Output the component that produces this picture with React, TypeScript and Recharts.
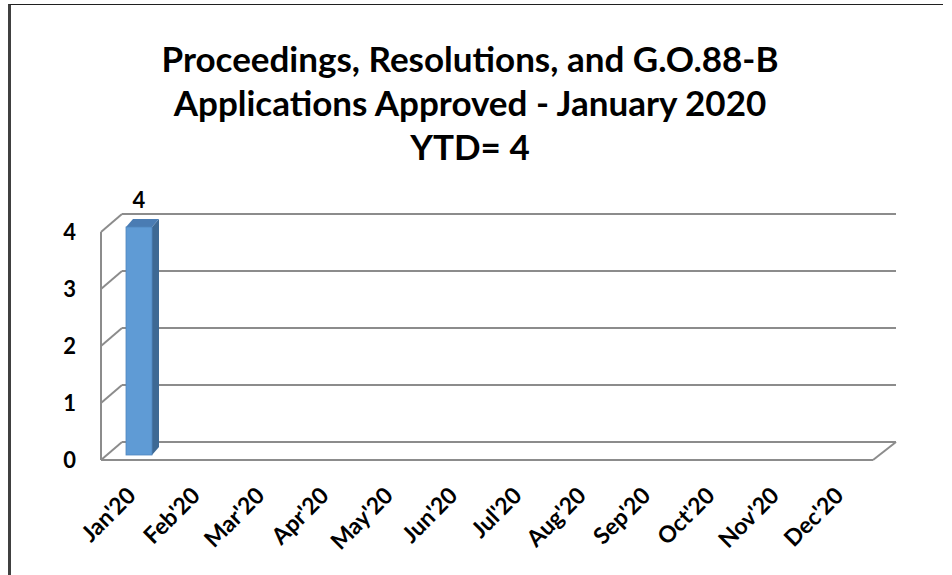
import React from 'react';
import { BarChart, Bar, XAxis, YAxis, CartesianGrid, LabelList } from 'recharts';

const months = ["Jan'20", "Feb'20", "Mar'20", "Apr'20", "May'20", "Jun'20", "Jul'20", "Aug'20", "Sep'20", "Oct'20", "Nov'20", "Dec'20"];
const approved: (number | null)[] = [4, null, null, null, null, null, null, null, null, null, null, null];
const yTicks = [0, 1, 2, 3, 4];
const titleLines = ['Proceedings, Resolutions, and G.O.88-B', 'Applications Approved - January 2020', 'YTD= 4'];

const data = months.map((m, i) => ({ month: m, approved: approved[i] }));

const FONT = 'Lato, "Open Sans", sans-serif';
const GRID = '#8c8c8c';
// depth of the 3d walls
const WALL_DX = 21;
const WALL_DY = -18;
const PLOT_BOTTOM = 460;

const Bar3D = (props: any) => {
  const { x, y, width, height } = props;
  if (!height) return null;
  const fx = x + 6;
  const fy = y - 5;
  const dx = 7;
  const dy = -8;
  return (
    <g>
      <polygon
        points={`${fx + width},${fy} ${fx + width + dx},${fy + dy} ${fx + width + dx},${fy + height + dy} ${fx + width},${fy + height}`}
        fill="#3e6994"
      />
      <polygon
        points={`${fx},${fy} ${fx + dx},${fy + dy} ${fx + width + dx},${fy + dy} ${fx + width},${fy}`}
        fill="#4a7cb3"
      />
      <rect x={fx} y={fy} width={width} height={height} fill="#5f9bd5" stroke="#4f86bd" strokeWidth={0.8} />
    </g>
  );
};

const gridLine = (props: any) => {
  const { x1, x2, y1, index } = props;
  const isFloor = Math.abs(y1 - PLOT_BOTTOM) < 1;
  return (
    <g key={`g-${index}-${y1}`}>
      <line x1={x1} y1={y1} x2={x1 + WALL_DX} y2={y1 + WALL_DY} stroke={GRID} strokeWidth={2} />
      <line x1={x1 + WALL_DX} y1={y1 + WALL_DY} x2={x2 + 23} y2={y1 + WALL_DY} stroke={GRID} strokeWidth={2} />
      {isFloor && <line x1={x2} y1={y1} x2={x2 + 23} y2={y1 + WALL_DY} stroke={GRID} strokeWidth={2} />}
    </g>
  );
};

const XTick = (props: any) => {
  const { x, y, payload } = props;
  const ax = x + 4;
  const ay = y + 37;
  return (
    <text x={ax} y={ay} transform={`rotate(-45, ${ax}, ${ay})`} textAnchor="end" fontFamily={FONT} fontWeight={700} fontSize={23} fill="#000">
      {payload.value}
    </text>
  );
};

const YTick = (props: any) => {
  const { y, payload } = props;
  return (
    <text x={76} y={y + 8} textAnchor="end" fontFamily={FONT} fontWeight={700} fontSize={22} fill="#000">
      {payload.value}
    </text>
  );
};

const TopLabel = (props: any) => {
  const { x, y, width, value } = props;
  if (value == null) return null;
  return (
    <text x={x + width / 2 + 6} y={y - 24} textAnchor="middle" fontFamily={FONT} fontWeight={700} fontSize={22} fill="#000">
      {value}
    </text>
  );
};

export default function App() {
  return (
    <div style={{ position: 'absolute', left: 0, top: 0, width: 952, height: 575, background: '#fff', overflow: 'hidden' }}>
      <div
        style={{
          position: 'absolute', left: 8, top: 4, width: 935, height: 600,
          borderLeft: '3px solid #404040', borderTop: '1px solid #202020', boxSizing: 'border-box',
        }}
      />
      <svg width={952} height={575} style={{ position: 'absolute', left: 0, top: 0 }}>
        {titleLines.map((t, i) => (
          <text key={t} x={470} y={72 + i * 44} textAnchor="middle" fontFamily={FONT} fontWeight={700} fontSize={35} fill="#000">
            {t}
          </text>
        ))}
      </svg>
      <div style={{ position: 'absolute', left: 0, top: 0 }}>
        <BarChart width={952} height={575} data={data} margin={{ top: 232, right: 79, bottom: 0, left: 8 }} barCategoryGap={0}>
          <CartesianGrid vertical={false} horizontal={gridLine} />
          <XAxis
            dataKey="month"
            interval={0}
            height={115}
            tickLine={false}
            tickSize={0}
            tickMargin={0}
            axisLine={{ stroke: GRID, strokeWidth: 2 }}
            tick={<XTick />}
          />
          <YAxis
            width={93}
            domain={[0, 4]}
            ticks={yTicks}
            tickLine={false}
            tickSize={0}
            axisLine={{ stroke: GRID, strokeWidth: 2 }}
            tick={<YTick />}
          />
          <Bar dataKey="approved" barSize={26} shape={<Bar3D />} isAnimationActive={false}>
            <LabelList dataKey="approved" content={<TopLabel />} />
          </Bar>
        </BarChart>
      </div>
    </div>
  );
}
